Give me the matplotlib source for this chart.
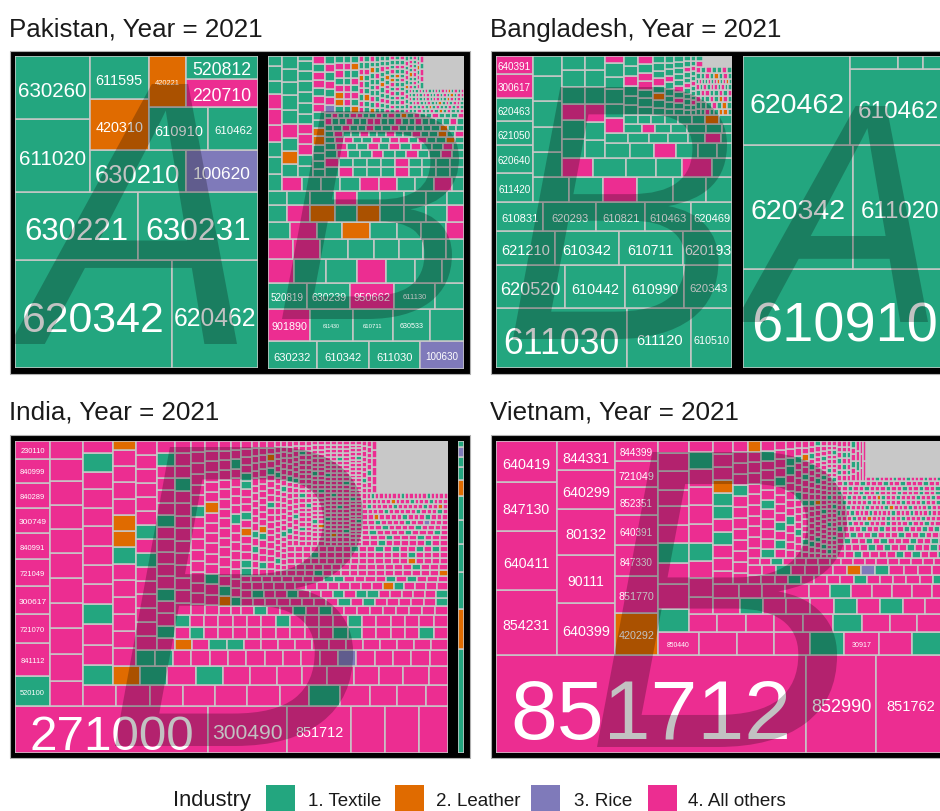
import matplotlib
matplotlib.use("Agg")
import matplotlib.pyplot as plt
from matplotlib.font_manager import FontProperties
from matplotlib.patches import PathPatch, Rectangle
from matplotlib.textpath import TextPath
from matplotlib.transforms import Affine2D

# Strips of a treemap: R = row from the bottom, C = column from the left.
# T textile, L leather, R rice, P all others

# Pakistan, left
pak_a_dirs = "RRCRCRCC"
pak_a_values = [[16960, 9290], [8400, 8160], [5400, 4725], [4030, 3020], [3000, 2580],
                [2550, 2155], [1860], [2050, 1636]]
pak_a_kinds = ["TT", "TT", "TT", "TR", "LT", "TT", "L", "PT"]
pak_a_labels = {0: ["620342", "620462"], 1: ["630221", "630231"], 2: ["611020", "630260"],
                3: ["630210", "100620"], 4: ["420310", "611595"], 5: ["610910", "610462"],
                6: ["420221"], 7: ["220710", "520812"]}

# Pakistan, right
pak_b_dirs = "RRRRRRRRCRCCC" + "RRRRRRRRR" + "CCCCCCCCCCCCCC" + "RRRRRR" + "CCCC"
pak_b_values = [[1387, 1472, 1443, 1245], [1354, 1354, 1290, 1194, 1078],
                [1014, 1126, 1144, 1066, 746], [621, 748, 732, 691, 684, 630, 519],
                [494, 554, 554, 514, 500, 480, 466, 354], [390, 467, 438, 495, 467, 408, 438, 320],
                [314, 384, 401, 368, 384, 384, 358, 358, 275], [277, 340, 355, 326, 340, 340, 317, 317, 244],
                [229, 239, 225, 239, 225, 205, 190, 205, 143],
                [280, 261, 266, 280, 257, 257, 257, 257, 257, 163],
                [192, 213, 197, 229, 224, 224, 213, 203, 203],
                [162, 168, 168, 157, 157, 162, 157, 177, 162, 157, 152, 83],
                [1447],
                [1291], [1291], [1069], [972], [930], [833], [833], [875], [694],
                [573], [498], [384], [498], [287], [344], [287], [287], [287], [258], [287], [287], [287], [230],
                [248], [220], [220], [220], [220], [220],
                [132], [132], [115], [115]]
pak_b_kinds = ["TTTR", "PTTTT", "TTPTT", "PTTPTTT", "PPTTTTTT", "TPTLTTTP", "TPLTLTTTP", "TTTPTTTTT",
               "TTTPPPTTT", "PTTTPPTTPT", "TLTPTTTTT", "TTPPPTTTTTTT",
               "TTTTLLTTPPTPPTP",
               "TPTTTPTTTT", "PTTTTPTTTT", "TPTTPTTPTTPT", "TPTTPTPTPTTPT", "TPPTTPTPPTPTTLT",
               "TPTTPTTPTTPTTLTP", "TTPTTPTTPTTTTTLTT", "PTTPTTPPTTPTTPTTTTPT", "TPTTPPTTPTPTLTPTTPTTTP",
               "RPTPTPT", "TLLPTPPT", "TPPPTTPT", "LTPTPTLT", "PPTPPLPTP", "TTLTTTPTT", "LTPTTTTLTP",
               "TPTTPTPTTT", "TTPTTLTTPTT", "PTPTPPTLTPTT", "TPTTPTPLTPTTP", "PTTPTPTTLTPTT",
               "TTPTPTTPTTPTP", "PTTPTLTPPTPT",
               "TTPTTPTLTPTTP", "PTTPTLTPTTPTPT", "TPPTTPTTLTPTPPT", "PTPTTPTPPTTLPTPT", "TTPTPPTTPTPTLTPP",
               "PTTPTPTTPTPPLTPTP",
               "PTTLTPPT", "TPTPPTTP", "PTPTLPT", "TPPTP"]
pak_b_labels = {0: ["630232", "610342", "611030", "100630"],
                1: ["901890", "611430", "610711", "630533"],
                2: ["520819", "630239", "950662", "611130"]}

# Bangladesh, left
ban_a_dirs = "RRRRCRCRCCRRCRR" + "CCCCCCC" + "RRRRRRRR" + "C"
ban_a_values = [[7900, 3840, 2440], [2946, 2590, 2506, 2050], [2006, 2176, 2186, 1666],
                [1386, 1544, 1456, 1348, 1192], [1075, 1002, 881, 855, 892, 650],
                [892, 858, 850, 875, 833, 642], [729, 729, 771, 729, 600],
                [592, 612, 565, 496, 560, 386], [440, 423, 376, 376, 392, 313], [372, 363, 372, 336, 351, 279],
                [373, 363, 341, 336, 293, 224], [232, 214, 196, 196, 178, 160, 114],
                [274, 260, 286, 220, 266, 134], [160, 123, 143, 150, 173, 143, 90], [888],
                [830], [910], [670], [540], [580], [420], [330],
                [221], [247], [221], [206], [210], [195], [221], [221], [74]]
ban_a_kinds = ["TTT", "TTTT", "TTTT", "TTTTT", "TTTTPP", "TTPTTT", "TTTTT", "PTTTPT", "TTPTTT", "TTPTTT",
               "TTPTTT", "TTTTTPT", "PTTTTP", "TPTTTTT", "TTTTTTLT",
               "TTTPTT", "TTTPPTP", "TTLTPTTT", "TTTTTPTTT", "TTPTPTTTTT", "TTTTTPTTPTT", "TTPTTTPTTPTT",
               "TTPTTLLT", "TTTPTLT", "PTTPTLPT", "TPPTTPTP", "PTPTPPTPTT", "TPTTPTPLTPLT", "TTPTLTPT", "PTPTTPT",
               "PT"]
ban_a_labels = {0: ["611030", "611120", "610510"], 1: ["620520", "610442", "610990", "620343"],
                2: ["621210", "610342", "610711", "620193"],
                3: ["610831", "620293", "610821", "610463", "620469"],
                4: ["611420", "620640", "621050", "620463", "300617", "640391"]}

# Bangladesh, right
ban_b_dirs = "RRCRR"
ban_b_values = [[20097], [13640, 11532], [9553], [7296], [606, 326, 287]]
ban_b_kinds = ["T", "TT", "T", "T", "TTT"]
ban_b_labels = {0: ["610910"], 1: ["620342", "611020"], 2: ["620462"], 3: ["610462"]}

# India, left
ind_a_dirs = "RCCRCRCRCCRRR" + "CCCCC" + "RRRRR" + "CCCCCC" + "RRRRR" + "CCCCCCCCCCCC" + "RRRRRRRRRR" + "CCC"
ind_a_values = [[9071, 3713, 3008, 1598, 1598, 1363],
                [1056, 1172, 1020, 974, 939, 914, 904, 880, 844, 622],
                [812, 867, 867, 789, 835, 789, 780, 780, 789, 704, 594],
                [706, 727, 706, 685, 685, 706, 621, 642, 642, 578, 621, 471],
                [597, 597, 618, 597, 597, 575, 575, 575, 558, 558, 516, 558, 366],
                [512, 512, 531, 512, 512, 493, 474, 474, 493, 474, 455, 474, 360],
                [418, 406, 406, 406, 398, 398, 382, 398, 382, 382, 382, 382, 382, 221],
                [4898], [4343], [3839], [3085], [3276], [3194],
                [2732], [2488], [2314], [2140], [1740],
                [1925], [1718], [1656], [1594], [1242],
                [1482], [943], [1078], [1078], [808], [808],
                [1014], [918], [966], [918], [1079],
                [657], [657], [657], [657], [657], [657], [657], [657], [657], [657], [657], [657],
                [446], [446], [446], [446], [446], [446], [446], [446], [446], [446],
                [260], [260], [240]]
ind_a_kinds = ["PPPPPP", "TPPPPPPPPP", "PPPPPPPPPPP", "PPPPPPPTPPPP", "TPPTPPPPPPPTP", "LTPTPPPPPPPPP",
               "PPPPPPTLLPPPPL", "TTPPPPPPPPPRPPPPP",
               "PPPPPPTPTPPPPPP", "PTPPTPPPPPTPPPPTP",
               "LPTTPPPPPPPPPPPP", "PTPPPPPPPPPTTPPPPTP", "TPPPPPPTPPPPTPPPPPP",
               "PPPPPPPPPPTPPP", "PPPPPPPPPTPPPPPP", "PPPTPPPPPPLPPPPPP", "PLTPPPPPPPPPPPPPPP",
               "PTPPPPPPPPTPPPPPTPP",
               "PTPPTPTPPPPPPPPP", "PPPPPPPPTPTPPPPPT", "PTPPTPPPTPTTPPPPPT", "PPPPPPPPPPPPPLTPPPP",
               "PPPPPPPPTTPPPPTPTPPP",
               "TTPPPLPTPPPTTPPPP", "PPPTPTPPPPPPPPPPPP", "PTPPPTLPPPPPPPPPPPP", "PPPPPPPPPPTPPPPTPLPP",
               "PPTPPPPPPPPPPPPPTPPPPP", "PPPPPPPTPPPPPPPTPPPPPPPP",
               "PPPTPPPPPPPPPPPPPL", "PPPPPPPPPPPPPPTPPP",
               "PPPPPPPPPPPPPPPLPPPP", "PPPTPPPPPPPPPPPTPPPP",
               "PPPPPPPPTPPTPTPPTPTP",
               "PPTPPPPPPPPTPPPPPP", "PPPPPTPPPPPPTPPPPPPP", "PPPTPPPPPPTPPPPPPPPTPP", "PPPPPPPPTPPPPPPPPPPPPP",
               "PPPPPTPPPPPPPPPPTPPPPPPP", "PPPPLPPPPPPPTPPPPPPPPPPP", "PPPPPPTPPPPPPPPPPTPPPPPPPP",
               "PPLPPPPPPPPPTPPPPPPPPPPPPP", "PPPPPPPPPTPPPPPPPPPPPTPPPP", "PPPTPPPPPPPPPPPTPPPPPPPPPP",
               "PPPPPPPPPPPPTPPPPPPPPPPPPPPP", "PPPPPPTPPPPPPPPPPPPPPPPTPPPP",
               "PPTPPPPPTPP", "PPPTPPPTPPP", "PTPPPPTPPPTP", "PPPTPPPPTPPPP", "PPTPPPPTPPRPPP",
               "PPLPPPPTPPPTPPP", "PPPPTPPPPPTPPPTP", "PTPPPPTPPPPPTPPLP", "PPPPPPLPPPTPPPTPPP",
               "PPTPPPPPPTPPPPPTPPPP",
               "PPTPPPPPPP", "PPPTPPPPP", "PPPPPP"]
ind_a_labels = {0: ["271000", "300490", "851712"],
                1: ["520100", "841112", "721070", "300617", "721049", "840991", "300749", "840289", "840999", "230110"]}

# India, right
ind_b_dirs = "C"
ind_b_values = [[655, 252, 239, 176, 151, 151, 101, 82, 63, 63, 38]]
ind_b_kinds = ["TLTTTTLTTRT"]
ind_b_labels = {}

# Vietnam
vie_dirs = "RCCCRCRCRRCC" + "RRR" + "CCCCCCCCCCC" + "RRRRRRRRRRRRRR" + "CCCCCCC" + "R"
vie_values = [[30473, 6881, 6881], [3903, 3581, 2974, 2489], [3014, 2816, 2664, 2256, 1691],
              [1793, 1578, 1333, 1277, 1234, 1105, 860], [955, 885, 839, 839, 792, 816, 746, 792],
              [704, 753, 642, 620, 567, 567, 518, 567, 567, 363], [496, 513, 478, 513, 531, 496, 496, 460, 513],
              [425, 458, 433, 443, 475, 458, 443, 450, 418, 275], [424, 375, 359, 391, 375, 375, 359, 375, 342, 342],
              [351, 319, 319, 319, 287, 287, 287, 287, 271, 271, 192], [2860], [2145],
              [1795], [2065], [1293],
              [1512], [1628], [1279], [1047], [872], [814], [698], [756], [640], [582], [582],
              [832], [728], [697], [624], [624], [593], [520], [624], [593], [593], [447], [520], [520], [520],
              [210], [180], [180], [180], [160], [140], [140], [350]]
vie_kinds = ["PPP", "PPPP", "PPPPP", "LPPPPPP", "PPPPTPPT", "TPPTPPPPPP", "PPPPPTPPP", "PPPTPPPPTP", "PTPPPTPTPP",
             "PPPPPTPPPPP", "PPPTPTTLPPP", "PPPPPPPPTPPPP",
             "PPPTPPPPTPPPPPT", "PPTPPPPLRTPPPP", "PPTPPPPPPPPPPPPPP",
             "PPPPPPPPPPL", "TPPPPTPPPPTP", "PTPTPPPPTPPPP", "PPPPTPPPPPTTPP", "PPPTPPPPTPPPPTPP",
             "PPTPPPPPTPPPTPPLPP", "PPTPPPPPPTPPPPPTPTPP", "PPPTPPPPPPLPPPTPPPPPPT", "PPTPPPPPPTPPPPPPTPPPTPPP",
             "PTPPPPPTPPPPPTPPPPPTPPPPPP", "PPPPTPPPPPPTPPPPPTPPPPPTPP",
             "PPTPPPPTPTPPT", "PPPPTPTPPTPPTP", "PTPPTPTPPPTPPTP", "PPTPPTPPPTPPTPPP", "TPPPTPPTPPPTPPTPTP",
             "PPTPPTPPPTPPPTPPTPPT", "PPPTPPLPPPTPPTPPPTPPPT", "TPPTPPPTPPPPTPPPTPPPTPPP",
             "PPTPPPTPPPTLPPPTPPPTPPP", "PTPPPPTPPTPPPTPPPTPPTP", "PPTPPTPPLTPPTPPPTPPTPP", "TPPPTPPTPPPTPPPTPPTP",
             "PPTPPTPPPTPPTPPTPPTP", "PTPPTPPPTPPTPPPTPPP",
             "PTPTPPP", "PPTPTPP", "PTPPTPP", "PPTPPT", "PTPP", "PPP", "PP", "PPTPPPTPPTPPPTPPTP"]
vie_labels = {0: ["851712", "852990", "851762"], 1: ["854231", "640411", "847130", "640419"],
              2: ["640399", "90111", "80132", "640299", "844331"],
              3: ["420292", "851770", "847330", "640391", "852351", "721049", "844399"],
              4: ["850440", None, None, None, None, "30917"]}

years_title = ["Pakistan, Year = 2021", "Bangladesh, Year = 2021", "India, Year = 2021", "Vietnam, Year = 2021"]
legend_names = ["1. Textile", "2. Leather", "3. Rice", "4. All others"]

# ---- styles and positions, in pixels of the 940x812 picture ----
FILL = {"T": "#23A67F", "L": "#E06B00", "R": "#7F7ABA", "P": "#EC2D91"}
GREY = "#C8C8C8"
FONT = "Liberation Sans"
W_PX, H_PX = 940, 812

# text width of the labels in pixels
pak_a_px = {0: [143, 82], 1: [104, 105], 2: [69, 69], 3: [85, 58], 4: [48, 48], 5: [49, 38], 6: [25], 7: [59, 59]}
pak_b_px = {0: [37, 37, 37, 33], 1: [36, 17, 20, 24], 2: [33, 35, 37, 25]}
ban_a_px = {0: [119, 49, 36], 1: [60, 48, 47, 38], 2: [49, 49, 47, 47], 3: [37, 37, 37, 37, 37],
            4: [33, 33, 33, 33, 33, 33]}
ban_b_px = {0: [187], 1: [95, 80], 2: [95], 3: [81]}
ind_a_px = {0: [165, 70, 48], 1: [25, 25, 25, 28, 25, 25, 28, 25, 25, 25]}
vie_px = {0: [281, 60, 49], 1: [47, 47, 47, 48], 2: [48, 39, 41, 48, 47],
          3: [36, 36, 33, 33, 33, 36, 33], 4: [23, 0, 0, 0, 0, 20]}

# x0, y0, x1, y1 of each panel, letter and its box
panels = [
    ((15, 57, 258, 369), pak_a_dirs, pak_a_values, pak_a_kinds, pak_a_labels, pak_a_px, "A", (10, 85, 237, 345)),
    ((268, 57, 464, 370), pak_b_dirs, pak_b_values, pak_b_kinds, pak_b_labels, pak_b_px, "B", (282, 112, 459, 320)),
    ((496, 57, 732, 369), ban_a_dirs, ban_a_values, ban_a_kinds, ban_a_labels, ban_a_px, "B", (513, 88, 727, 340)),
    ((743, 57, 946, 369), ban_b_dirs, ban_b_values, ban_b_kinds, ban_b_labels, ban_b_px, "A", (735, 107, 928, 323)),
    ((15, 442, 448, 754), ind_a_dirs, ind_a_values, ind_a_kinds, ind_a_labels, ind_a_px, "B", (115, 448, 363, 747)),
    ((458, 442, 464, 754), ind_b_dirs, ind_b_values, ind_b_kinds, ind_b_labels, {}, None, None),
    ((496, 442, 946, 754), vie_dirs, vie_values, vie_kinds, vie_labels, vie_px, "B", (597, 453, 847, 748)),
]
frames = [(10, 52, 470, 375), (491, 52, 951, 375), (10, 436, 470, 759), (491, 436, 951, 759)]
title_xy = [(9, 37), (490, 37), (9, 420), (490, 420)]
legend_boxes = [266, 395, 531, 648]
legend_text_x = [308, 436, 574, 688]


def squarify_strips(width, height, dirs, values, kinds):
    x0, y0, x1, y1 = 0.0, 0.0, float(width), float(height)
    strips = []
    for d, vals, kind in zip(dirs, values, kinds):
        if len(vals) == 1 and len(kind) > 1:
            vals = [vals[0] / len(kind)] * len(kind)
        total = sum(vals)
        tiles = []
        if d == "R":
            thick = total / (x1 - x0)
            x = x0
            for v, k in zip(vals, kind):
                tiles.append((x, y0, v / thick, thick, k))
                x += v / thick
            y0 += thick
        else:
            thick = total / (y1 - y0)
            y = y0
            for v, k in zip(vals, kind):
                tiles.append((x0, y, thick, v / thick, k))
                y += v / thick
            x0 += thick
        strips.append(tiles)
    return strips


fig = plt.figure(figsize=(W_PX / 100, H_PX / 100), dpi=100, facecolor="white")
back = fig.add_axes([0, 0, 1, 1], zorder=0)
back.set_xlim(0, W_PX)
back.set_ylim(H_PX, 0)
back.axis("off")

for x0, y0, x1, y1 in frames:
    back.add_patch(Rectangle((x0, y0), x1 - x0, y1 - y0, facecolor="black", edgecolor="#B0B0B0", lw=0.8))
for (x, y), name in zip(title_xy, years_title):
    back.text(x, y, name, fontsize=18.7, family=FONT, color="#1A1A1A", ha="left", va="baseline")

letter_font = FontProperties(family=FONT, style="italic")
for box, dirs, values, kinds, labels, label_px, letter, letter_box in panels:
    px0, py0, px1, py1 = box
    w, h = px1 - px0, py1 - py0
    ax = fig.add_axes([px0 / W_PX, 1 - py1 / H_PX, w / W_PX, h / H_PX], zorder=1)
    ax.set_xlim(0, w)
    ax.set_ylim(0, h)
    ax.set_xticks([])
    ax.set_yticks([])
    ax.set_facecolor(GREY)
    for s in ax.spines.values():
        s.set_visible(False)
    strips = squarify_strips(w, h, dirs, values, kinds)
    for i, tiles in enumerate(strips):
        codes = labels.get(i, [])
        sizes = label_px.get(i, [])
        for j, (x, y, tw, th, k) in enumerate(tiles):
            ax.add_patch(Rectangle((x, y), tw, th, facecolor=FILL[k], edgecolor=GREY, lw=1.1, zorder=2))
            if j < len(codes) and codes[j]:
                em = sizes[j] / (0.556 * len(codes[j]))
                # the labels sit a little under the middle of the tile
                ax.text(x + tw / 2, y + th / 2 - 0.15 * em, codes[j], color="white", family=FONT,
                        fontsize=em * 0.72, ha="center", va="center", zorder=3, clip_on=True)
    if letter:
        lx0, ly0, lx1, ly1 = letter_box
        path = TextPath((0, 0), letter, size=1, prop=letter_font)
        ext = path.get_extents()
        tr = (Affine2D().translate(-ext.x0, -ext.y0)
              .scale((lx1 - lx0) / ext.width, (ly1 - ly0) / ext.height)
              .translate(lx0 - px0, py1 - ly1))
        ax.add_patch(PathPatch(path, transform=tr + ax.transData, facecolor="black", alpha=0.24, lw=0, zorder=4))

# legend
back.text(173, 806, "Industry", fontsize=15.8, family=FONT, color="#1A1A1A", ha="left", va="baseline")
for x, tx, name, key in zip(legend_boxes, legend_text_x, legend_names, "TLRP"):
    back.add_patch(Rectangle((x, 786), 29, 26, facecolor=FILL[key], edgecolor="none"))
    back.text(tx, 806, name, fontsize=13.5, family=FONT, color="#1A1A1A", ha="left", va="baseline")

fig.savefig("out.png", dpi=100)
